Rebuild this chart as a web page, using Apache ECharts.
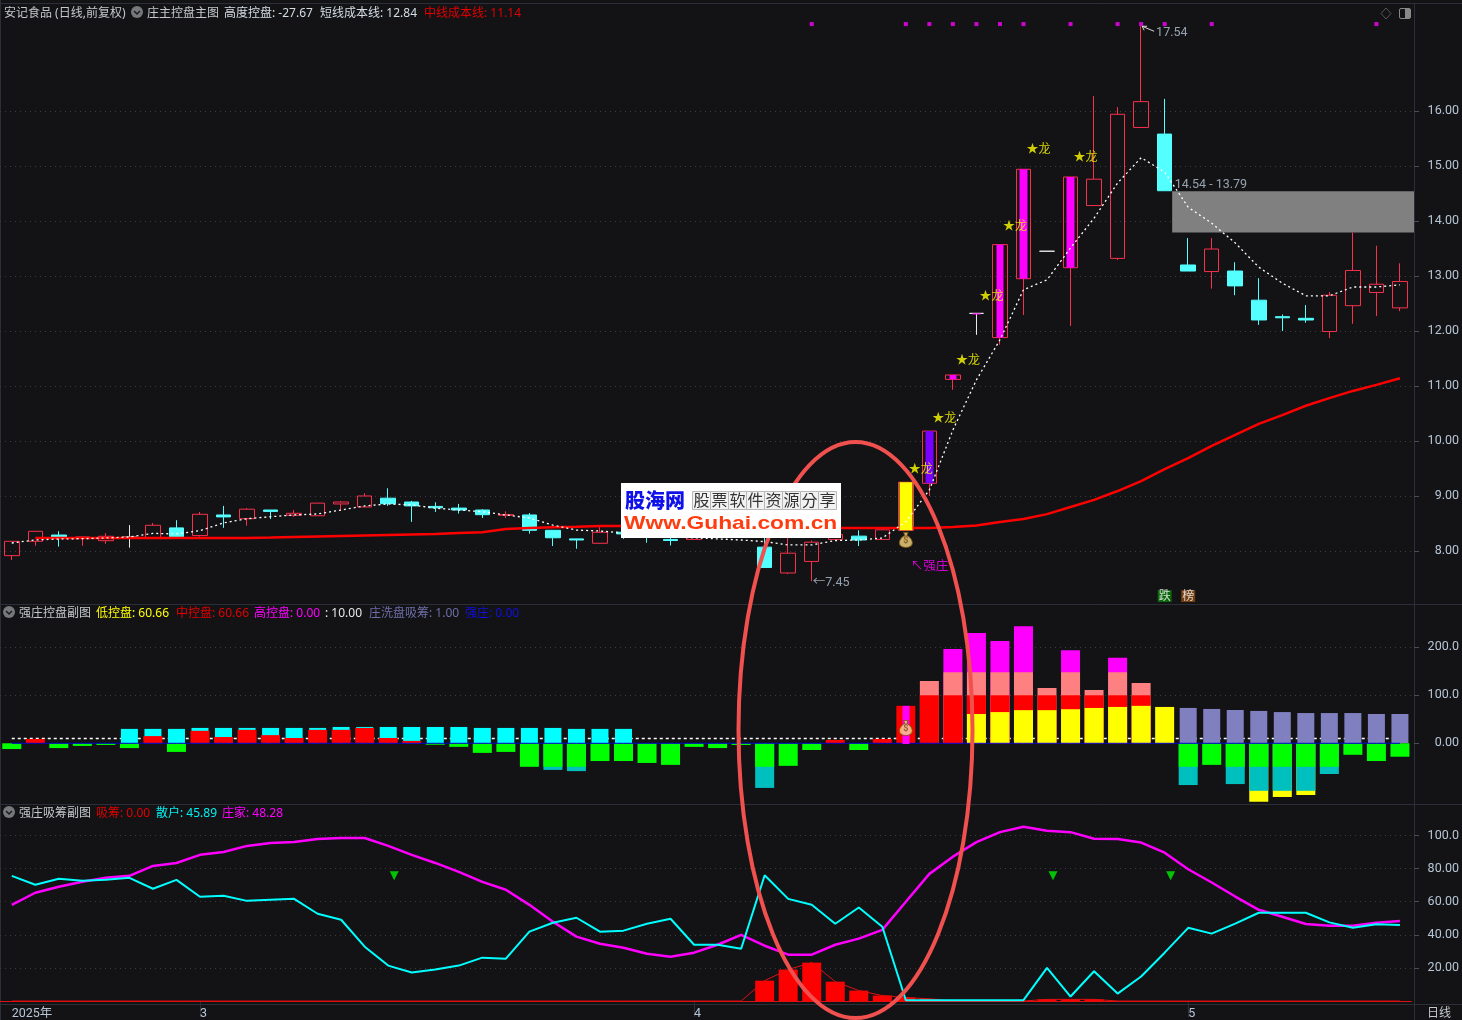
<!DOCTYPE html>
<html>
<head>
<meta charset="utf-8">
<title>安记食品</title>
<script src="https://cdn.jsdelivr.net/npm/echarts@6/dist/echarts.min.js"></script>
<style>
    html, body { margin: 0; padding: 0; background: #131316; }
    #chart { width: 1462px; height: 1020px; }
</style>
</head>
<body>
<div id="chart"></div>
<script>
    // x轴标签
    const xLabels = [
        '2025年','','','','','','','','3','',
        '','','','','','','','','','',
        '','','','','','','','','','4',
        '','','','','','','','','','',
        '','','','','','','','','','',
        '5','','','','','','','','',''
    ];
    const monthTicks = [8, 29, 50];

    // K线
    const candleOpen = [
        7.915,8.176,8.29,8.236,8.187,8.25,8.236,8.42,8.28,8.655,
        8.587,8.745,8.65,8.64,8.855,8.8,8.96,8.89,8.81,8.78,
        8.745,8.65,8.655,8.376,8.22,8.14,8.34,8.35,8.21,8.21,
        8.45,8.6,8.07,7.6,7.81,8.21,8.27,8.21,8.376,9.23,
        11.12,12.32,11.88,12.95,13.45,13.15,14.28,13.32,15.7,15.58,
        13.2,13.08,13.09,12.56,12.26,12.23,11.99,12.46,12.7,12.42
    ];
    const candleClose = [
        8.176,8.358,8.236,8.255,8.267,8.25,8.467,8.26,8.667,8.62,
        8.76,8.72,8.685,8.87,8.89,9.0,8.86,8.82,8.785,8.745,
        8.66,8.66,8.376,8.24,8.2,8.34,8.31,8.3,8.19,8.4,
        8.5,8.4,7.7,7.96,8.16,8.3,8.2,8.385,9.25,10.18,
        11.2,12.32,13.57,14.94,13.45,14.8,14.76,15.94,16.17,14.55,
        13.09,13.49,12.82,12.2,12.24,12.2,12.65,13.1,12.85,12.9
    ];
    const candleLow = [
        7.836,8.096,8.08,8.096,8.13,8.06,8.236,8.236,8.26,8.42,
        8.46,8.58,8.62,8.64,8.73,8.8,8.82,8.53,8.71,8.68,
        8.6,8.6,8.315,8.09,8.04,8.14,8.22,8.15,8.1,8.21,
        8.45,8.3,7.7,7.58,7.45,8.21,8.09,8.21,8.376,9.0,
        10.93,11.93,11.75,12.29,13.45,12.09,14.28,13.29,15.7,14.55,
        13.09,12.77,12.65,12.11,12.0,12.15,11.87,12.13,12.27,12.36
    ];
    const candleHigh = [
        8.176,8.358,8.36,8.26,8.327,8.47,8.51,8.56,8.71,8.82,
        8.78,8.745,8.745,8.87,8.91,9.05,9.14,8.91,8.885,8.855,
        8.76,8.72,8.69,8.376,8.22,8.45,8.4,8.5,8.26,8.45,
        8.55,8.7,8.26,8.24,8.19,8.35,8.376,8.385,9.25,10.18,
        11.2,12.32,13.57,14.94,13.45,14.8,16.27,16.07,17.54,16.22,
        13.69,13.69,13.25,12.96,12.3,12.47,12.71,13.79,13.55,13.23
    ];

    // 主图内的色块 [序号, 下沿, 上沿]
    const yellowBlock = [[38, 8.376, 9.25]];
    const purpleBlock = [[39, 9.23, 10.18]];
    const magentaBlock = [[40, 11.12, 11.2], [41, 12.3, 12.32], [42, 11.88, 13.57], [43, 12.95, 14.94], [45, 13.15, 14.8]];

    // 短线成本线 / 中线成本线
    const shortCost = [
        8.145,8.2,8.218,8.224,8.236,8.255,8.32,8.31,8.37,8.51,
        8.587,8.623,8.655,8.673,8.745,8.82,8.855,8.836,8.78,8.745,
        8.714,8.655,8.6,8.47,8.38,8.363,8.33,8.29,8.255,8.24,
        8.22,8.2,8.17,8.11,8.11,8.19,8.2,8.236,8.53,9.11,
        10.2,11.11,11.84,12.75,12.93,13.51,14.05,14.69,15.15,14.89,
        14.25,13.96,13.6,13.16,12.87,12.64,12.64,12.8,12.8,12.84
    ];
    const midCost = [
        null,8.236,8.236,8.236,8.236,8.236,8.236,8.236,8.236,8.236,
        8.236,8.245,8.255,8.264,8.273,8.282,8.291,8.3,8.309,8.327,
        8.34,8.4,8.418,8.43,8.44,8.455,8.455,8.455,8.45,8.45,
        8.44,8.44,8.43,8.43,8.42,8.42,8.418,8.418,8.418,8.42,
        8.436,8.463,8.527,8.58,8.67,8.8,8.93,9.09,9.27,9.49,
        9.69,9.91,10.11,10.31,10.47,10.64,10.78,10.91,11.02,11.14
    ];

    const zoneStart = 49;
    const zoneHigh = 14.54;
    const zoneLow = 13.79;
    const topMarkIdx = [34, 38, 39, 40, 41, 42, 43, 45, 47, 48, 49, 51, 58];
    const dragonIdx = [38, 39, 40, 41, 42, 43, 45];
    const dragonPrice = [9.51, 10.44, 11.49, 12.65, 13.93, 15.33, 15.18];

    // 强庄控盘副图
    const barCyan = [
        null,null,null,null,null,30,30,30,32,32,
        32,32,32,32,34,34,34,34,34,34,
        32,32,32,32,30,30,30,null,null,null,
        null,null,null,null,null,null,null,null,null,null,
        null,null,null,null,null,null,null,null,null,null,
        null,null,null,null,null,null,null,null,null,null
    ];
    const barRed = [
        null,9,null,null,null,null,15,null,26,13,
        28,17,11,28,28,32,11,5,null,null,
        null,null,null,null,null,null,null,null,null,null,
        null,null,null,null,null,7,null,9,78,100,
        100,100,100,100,100,100,100,100,100,null,
        null,null,null,null,null,null,null,null,null,null
    ];
    const barSalmon = [
        null,null,null,null,null,null,null,null,null,null,
        null,null,null,null,null,null,null,null,null,null,
        null,null,null,null,null,null,null,null,null,null,
        null,null,null,null,null,null,null,null,null,130,
        148,148,148,148,115,148,111,148,125.7,null,
        null,null,null,null,null,null,null,null,null,null
    ];
    const barMagenta = [
        null,null,null,null,null,null,null,null,null,null,
        null,null,null,null,null,null,null,null,null,null,
        null,null,null,null,null,null,null,null,null,null,
        null,null,null,null,null,null,null,null,null,null,
        196.5,230,213,244,null,194,null,178,null,null,
        null,null,null,null,null,null,null,null,null,null
    ];
    const barYellow = [
        null,null,null,null,null,null,null,null,null,null,
        null,null,null,null,null,null,null,null,null,null,
        null,null,null,null,null,null,null,null,null,null,
        null,null,null,null,null,null,null,null,null,null,
        null,61,65,69,69,71,73.6,75.7,78,75.7,
        null,null,null,null,null,null,null,null,null,null
    ];
    const barPurple = [
        null,null,null,null,null,null,null,null,null,null,
        null,null,null,null,null,null,null,null,null,null,
        null,null,null,null,null,null,null,null,null,null,
        null,null,null,null,null,null,null,null,null,null,
        null,null,null,null,null,null,null,null,null,null,
        73.6,71.5,69.4,67.4,65,63,63,63,61,61
    ];
    const barGreen = [
        -12,null,-10,-5.5,-3.5,-10,null,-18,null,null,
        null,null,null,null,null,null,null,null,-3,-7.5,
        -20,-18,-49,-49,-49,-37,-37,-41,-45,-7.5,
        -10,-3.5,-49,-47,-14,null,-14,null,null,null,
        null,null,null,null,null,null,null,null,null,null,
        -49,-45,-49,-49,-49,-49,-49,-24,-37,-28
    ];
    const barTeal = [
        null,null,null,null,null,null,null,null,null,null,
        null,null,null,null,null,null,null,null,null,null,
        null,null,null,-55.5,-58,null,null,null,null,null,
        null,null,-93,null,null,null,null,null,null,null,
        null,null,null,null,null,null,null,null,null,null,
        -87,null,-85,-99,-99,-99,-64,null,null,null
    ];
    const barYellowDown = [
        null,null,null,null,null,null,null,null,null,null,
        null,null,null,null,null,null,null,null,null,null,
        null,null,null,null,null,null,null,null,null,null,
        null,null,null,null,null,null,null,null,null,null,
        null,null,null,null,null,null,null,null,null,null,
        null,null,null,-122,-112,-107.6,null,null,null,null
    ];
    const washLine = new Array(60).fill(10);
    const strongLine = new Array(60).fill(0);
    const narrowMagenta = [[38, -1.5, 78]];

    // 强庄吸筹副图
    const retail = [
        75.6,70.2,73.8,72.6,73.2,74.4,67.8,73.2,63,63.6,
        60.5,61.1,61.7,52.7,49.1,32.8,21.4,17.2,19,21.4,
        26.2,25.6,41.9,47.3,50.3,41.9,42.5,46.7,49.7,34,
        34,31.6,76,61.7,58.1,46.7,56.5,44.9,0.5,0.5,
        0.5,0.5,0.5,0.5,20,2.7,18,4.5,14.8,29.2,
        44.2,40.7,46.7,53.3,53.3,53.3,47.5,44.3,46.3,45.89
    ];
    const banker = [
        58.1,65.4,69,72,74.4,75.6,81.6,83.4,88.3,90,
        93.7,95.5,96,97.9,98.5,98.5,93.7,88.3,83.4,78,
        72,67.2,58.1,47.9,38.9,34.6,32.2,28.6,26.8,29.2,
        34,40,33.4,28,28,34,37.7,43,60,76.8,
        87.2,96,102,105.3,102.9,102,98,97.9,95.7,89.6,
        79.6,71.6,63.1,55.1,50.9,46.5,45.5,45.5,47.3,48.28
    ];
    const absorb = [
        0,0,0,0,0,0,0,0,0,0,
        0,0,0,0,0,0,0,0,0,0,
        0,0,0,0,0,0,0,0,0,0,
        0,0,12.3,19,23.2,11.7,6.3,3.3,2.1,1.3,
        0,0,0,0,1,1,1,0,0,0,
        0,0,0,0,0,0,0,0,0,0
    ];
    const triangleIdx = [16, 44, 49];
    const triangleValue = 75.6;

    const priceTicks = [8, 9, 10, 11, 12, 13, 14, 15, 16];
    const controlTicks = [0, 100, 200];
    const absorbTicks = [20, 40, 60, 80, 100];
    const slogan = ['股', '票', '软', '件', '资', '源', '分', '享'];

    const BG = '#131316';
    const GRID_LINE = '#3c3c40';
    const AXIS_LINE = '#2c2f3a';
    const LABEL = '#b7c6d6';
    const UI_FONT = '"Noto Sans", "Noto Sans CJK SC"';
    const NUM_FONT = 'Roboto, "Noto Sans CJK SC"';

    function gridMarks(values) {
        return {
            silent: true,
            z: 0,
            symbol: 'none',
            label: {show: false},
            lineStyle: {color: GRID_LINE, type: [1, 4], width: 1},
            data: values.map((v) => ({yAxis: v}))
        };
    }

    function yAxisOf(gridIndex, min, max, ticks, formatter) {
        return {
            type: 'value',
            gridIndex: gridIndex,
            position: 'right',
            offset: 2.3,
            min: min,
            max: max,
            splitLine: {show: false},
            axisLine: {show: true, lineStyle: {color: AXIS_LINE}},
            axisTick: {show: true, length: 5, customValues: ticks, lineStyle: {color: '#4a4d58'}},
            axisLabel: {
                customValues: ticks,
                align: 'right',
                margin: 45,
                padding: [2, 0, 0, 0],
                color: LABEL,
                fontFamily: NUM_FONT,
                fontSize: 12.5,
                formatter: formatter
            }
        };
    }

    function xAxisOf(gridIndex, showLabels) {
        return {
            type: 'category',
            gridIndex: gridIndex,
            data: xLabels,
            boundaryGap: true,
            axisLine: {show: false},
            axisTick: showLabels ? {
                show: true,
                alignWithLabel: true,
                length: 16,
                interval: (i) => monthTicks.includes(i),
                lineStyle: {color: AXIS_LINE}
            } : {show: false},
            axisLabel: showLabels ? {
                show: true,
                align: 'left',
                margin: 4,
                interval: (i) => xLabels[i] !== '',
                color: LABEL,
                fontFamily: NUM_FONT,
                fontSize: 12.5
            } : {show: false}
        };
    }

    // 主图上的文字标注
    function note(i, value, text, labelStyle) {
        return {
            value: [i, value],
            label: Object.assign({
                show: true,
                position: 'right',
                distance: 3,
                formatter: text,
                color: LABEL,
                fontFamily: NUM_FONT,
                fontSize: 12.5
            }, labelStyle)
        };
    }

    function noteSeries(data) {
        return {
            type: 'scatter',
            xAxisIndex: 0,
            yAxisIndex: 0,
            symbolSize: 0,
            silent: true,
            z: 8,
            data: data
        };
    }

    function blockSeries(data, color, width, xIdx, yIdx) {
        return {
            type: 'candlestick',
            xAxisIndex: xIdx,
            yAxisIndex: yIdx,
            barWidth: width,
            silent: true,
            z: 6,
            encode: {x: 0, y: [1, 2, 3, 4]},
            itemStyle: {color: color, color0: color, borderColor: color, borderColor0: color, borderColorDoji: color, borderWidth: 0},
            data: data.map((d) => [d[0], d[1], d[2], d[1], d[2]])
        };
    }

    function barSeries(data, color, width, xIdx, z) {
        return {
            type: 'bar',
            xAxisIndex: xIdx,
            yAxisIndex: 1,
            barWidth: width,
            barGap: '-100%',
            silent: true,
            z: z,
            itemStyle: {color: color},
            data: data
        };
    }

    function lineSeries(data, color, width, xIdx, yIdx, z, type) {
        return {
            type: 'line',
            xAxisIndex: xIdx,
            yAxisIndex: yIdx,
            data: data,
            showSymbol: false,
            silent: true,
            connectNulls: false,
            z: z,
            lineStyle: {color: color, width: width, type: type || 'solid'}
        };
    }

    const BAG_PATH = 'path://M8 0L16 0L14 5C21 9 24 14 24 18C24 24 18 26 12 26C6 26 0 24 0 18C0 14 3 9 10 5Z';
    function bagSeries(xIdx, yIdx, value) {
        return {
            type: 'scatter',
            xAxisIndex: xIdx,
            yAxisIndex: yIdx,
            symbol: BAG_PATH,
            symbolSize: [13, 15],
            silent: true,
            z: 9,
            itemStyle: {color: '#f6da82', borderColor: '#7a5210', borderWidth: 1},
            label: {show: true, position: 'inside', formatter: '$', color: '#7a4a10', fontSize: 9, fontWeight: 'bold', fontFamily: NUM_FONT, offset: [0, 1]},
            data: [[38, value]]
        };
    }

    // 小箭头，从数值点斜向文字
    function arrowRender(params, api) {
        const p = api.coord([api.value(0), api.value(1)]);
        const x = p[0] + 1, y = p[1];
        return {
            type: 'group',
            children: [
                {type: 'line', shape: {x1: x, y1: y, x2: x + 12, y2: y + 5}, style: {stroke: '#d8d8d8', lineWidth: 1}},
                {type: 'polyline', shape: {points: [[x + 2, y + 4], [x, y], [x + 5, y]]}, style: {stroke: '#d8d8d8', fill: 'none', lineWidth: 1}}
            ]
        };
    }

    function zoneRender(params, api) {
        const top = api.coord([api.value(0), api.value(1)]);
        const bottom = api.coord([api.value(0), api.value(2)]);
        const x = top[0] + 7.5;
        const right = params.coordSys.x + params.coordSys.width + 2.3;
        return {
            type: 'rect',
            shape: {x: x, y: top[1], width: right - x, height: bottom[1] - top[1]},
            style: {fill: '#808080'}
        };
    }

    // 标题栏文字
    function headerText(y, runs) {
        return runs.map((r) => ({
            type: 'text',
            x: r[0],
            y: y,
            silent: true,
            style: {text: r[1], fill: r[2], font: '12px ' + UI_FONT, textVerticalAlign: 'middle'}
        }));
    }

    function foldIcon(cx, cy) {
        return [
            {type: 'circle', shape: {cx: cx, cy: cy, r: 6}, silent: true, style: {fill: '#77787c'}},
            {type: 'polyline', shape: {points: [[cx - 3, cy - 1], [cx, cy + 2], [cx + 3, cy - 1]]}, silent: true, style: {stroke: '#1c1c1f', fill: 'none', lineWidth: 1.5}}
        ];
    }

    function hLine(y, x1, x2) {
        return {type: 'line', shape: {x1: x1, y1: y, x2: x2, y2: y}, silent: true, z: 20, style: {stroke: AXIS_LINE, lineWidth: 1}};
    }

    // 水印里的方格字
    const sloganCells = [];
    slogan.forEach((ch, k) => {
        sloganCells.push({type: 'rect', shape: {x: 692.5 + k * 18, y: 491.5, width: 18, height: 18}, silent: true, z: 31, style: {fill: '#f2f2f2', stroke: '#b8b8b8', lineWidth: 1}});
        sloganCells.push({type: 'text', x: 701.5 + k * 18, y: 500, silent: true, z: 32, style: {text: ch, fill: '#333333', font: '16px "Noto Sans CJK TC"', textAlign: 'center', textVerticalAlign: 'middle'}});
    });

    const graphics = [].concat(
        [hLine(3.5, 0, 1462), hLine(604.5, 0, 1462), hLine(804.5, 0, 1462), hLine(1004.5, 0, 1462)],
        [{type: 'line', shape: {x1: 0.5, y1: 0, x2: 0.5, y2: 1020}, silent: true, style: {stroke: AXIS_LINE, lineWidth: 1}}],
        [{type: 'line', shape: {x1: 1414.5, y1: 1004, x2: 1414.5, y2: 1020}, silent: true, style: {stroke: AXIS_LINE, lineWidth: 1}}],
        headerText(14, [
            [4, '安记食品 (日线,前复权)', '#c4c8cc'],
            [147, '庄主控盘主图', '#c4c8cc'],
            [224, '高度控盘: -27.67', '#d4dde6'],
            [320, '短线成本线: 12.84', '#d4dde6'],
            [424, '中线成本线: 11.14', '#e00000']
        ]),
        foldIcon(137, 12),
        headerText(614, [
            [19, '强庄控盘副图', '#c4c8cc'],
            [96, '低控盘: 60.66', '#ffff00'],
            [176, '中控盘: 60.66', '#e00000'],
            [254, '高控盘: 0.00', '#ff00ff'],
            [325, ': 10.00', '#e8e8e8'],
            [369, '庄洗盘吸筹: 1.00', '#6e6ea8'],
            [465, '强庄: 0.00', '#1010e0']
        ]),
        foldIcon(9, 612),
        headerText(814, [
            [19, '强庄吸筹副图', '#c4c8cc'],
            [96, '吸筹: 0.00', '#e00000'],
            [156, '散户: 45.89', '#00f0f0'],
            [222, '庄家: 48.28', '#ff00ff']
        ]),
        foldIcon(9, 812),
        [{type: 'text', x: 1427, y: 1014, silent: true, style: {text: '日线', fill: '#c4c8cc', font: '12px ' + UI_FONT, textVerticalAlign: 'middle'}}],
        // 右上角图标
        [{type: 'polygon', shape: {points: [[1386, 8], [1391, 13.5], [1386, 19], [1381, 13.5]]}, silent: true, style: {stroke: '#555', fill: 'none', lineWidth: 1}}],
        [{type: 'rect', shape: {x: 1399.5, y: 8.5, width: 11, height: 10, r: 1.5}, silent: true, style: {stroke: '#888', fill: 'none', lineWidth: 1}}],
        [{type: 'rect', shape: {x: 1405, y: 9, width: 5, height: 9}, silent: true, style: {fill: '#888'}}],
        // 红色手绘圈，压在水印下面
        [{type: 'ellipse', shape: {cx: 855.5, cy: 730, rx: 117, ry: 288}, silent: true, z: 25, style: {stroke: '#f0504e', fill: 'none', lineWidth: 4}}],
        // 水印
        [{type: 'rect', shape: {x: 621, y: 483, width: 220, height: 55}, silent: true, z: 30, style: {fill: '#ffffff'}}],
        [{type: 'text', x: 625, y: 500, silent: true, z: 31, style: {text: '股海网', fill: '#1010e8', font: '900 20px "Noto Sans CJK SC"', textVerticalAlign: 'middle'}}],
        sloganCells,
        [{type: 'text', x: 624, y: 523.5, scaleX: 1.2, silent: true, z: 31, style: {text: 'Www.Guhai.com.cn', fill: '#ff3c10', font: 'bold 19px "Liberation Sans"', textVerticalAlign: 'middle'}}]
    );

    const candleData = candleOpen.map((o, i) => [o, candleClose[i], candleLow[i], candleHigh[i]]);

    const priceFmt = (v) => v.toFixed(2);
    const panelFmt = (v) => (v >= 100 ? v.toFixed(1) : v.toFixed(2));

    const option = {
        animation: false,
        backgroundColor: BG,
        grid: [
            {left: -1.275, width: 1413, top: 4, height: 600},
            {left: -1.275, width: 1413, top: 605, height: 199},
            {left: -1.275, width: 1413, top: 805, height: 199}
        ],
        xAxis: [xAxisOf(0, false), xAxisOf(1, false), xAxisOf(2, true), xAxisOf(1, false)],
        yAxis: [
            yAxisOf(0, 7.036, 17.945, priceTicks, priceFmt),
            yAxisOf(1, -126.5, 288.1, controlTicks, panelFmt),
            yAxisOf(2, -1.5, 118.4, absorbTicks, panelFmt)
        ],
        graphic: graphics,
        series: [
            // 主图
            {
                type: 'custom',
                xAxisIndex: 0,
                yAxisIndex: 0,
                renderItem: zoneRender,
                silent: true,
                z: 1,
                encode: {x: 0, y: [1, 2]},
                data: [[zoneStart, zoneHigh, zoneLow]],
                markLine: gridMarks(priceTicks)
            },
            {
                type: 'candlestick',
                xAxisIndex: 0,
                yAxisIndex: 0,
                barWidth: 15,
                silent: true,
                z: 3,
                itemStyle: {
                    color: 'transparent',
                    color0: '#54ffff',
                    borderColor: '#f8304c',
                    borderColor0: '#54ffff',
                    borderColorDoji: '#e8e8e8',
                    borderWidth: 1
                },
                data: candleData
            },
            lineSeries(midCost, '#ff0000', 2.5, 0, 0, 4),
            blockSeries(yellowBlock, '#ffff00', 13, 0, 0),
            blockSeries(purpleBlock, '#7a00ff', 8, 0, 0),
            blockSeries(magentaBlock, '#ff00ff', 8, 0, 0),
            lineSeries(shortCost, '#ffffff', 1.3, 0, 0, 7, [2, 3]),
            {
                type: 'scatter',
                xAxisIndex: 0,
                yAxisIndex: 0,
                symbol: 'rect',
                symbolSize: 4,
                silent: true,
                z: 7,
                itemStyle: {color: '#ff00ff'},
                data: topMarkIdx.map((i) => [i, 17.58])
            },
            noteSeries(dragonIdx.map((i, k) => note(i, dragonPrice[k], '★龙', {color: '#ffff00', fontFamily: UI_FONT, fontSize: 12, offset: [0, 1.5]}))),
            noteSeries([
                note(48, 17.42, '17.54', {distance: 15}),
                note(34, 7.42, '←7.45', {distance: 1}),
                note(49, 14.66, '14.54 - 13.79', {distance: 10}),
                note(38, 7.72, '↖强庄', {color: '#ff00ff', distance: 5, fontFamily: UI_FONT}),
                note(49, 7.18, '跌', {position: 'inside', color: '#ffffff', backgroundColor: '#0b7a0b', padding: [0, 1], fontFamily: UI_FONT, fontSize: 12}),
                note(50, 7.18, '榜', {position: 'inside', color: '#ffffff', backgroundColor: '#8a4a10', padding: [0, 1], fontFamily: UI_FONT, fontSize: 12})
            ]),
            {
                type: 'custom',
                xAxisIndex: 0,
                yAxisIndex: 0,
                renderItem: arrowRender,
                silent: true,
                z: 8,
                encode: {x: 0, y: 1},
                data: [[48, 17.54]]
            },
            bagSeries(0, 0, 8.2),

            // 强庄控盘副图
            Object.assign(lineSeries(washLine, '#ffffff', 1.5, 1, 1, 1, [3, 3]), {markLine: gridMarks([100, 200])}),
            barSeries(barCyan, '#00ffff', 17, 3, 2),
            barSeries(barPurple, '#8080c0', 17, 3, 2),
            barSeries(barMagenta, '#ff00ff', 19, 1, 3),
            barSeries(barSalmon, '#ff8080', 19, 1, 3),
            barSeries(barRed, '#ff0000', 19, 1, 3),
            barSeries(barYellow, '#ffff00', 19, 1, 3),
            barSeries(barYellowDown, '#ffff00', 19, 1, 3),
            barSeries(barTeal, '#00bfbf', 19, 1, 3),
            barSeries(barGreen, '#00ff00', 19, 1, 3),
            lineSeries(strongLine, '#0000d0', 1, 1, 1, 4),
            blockSeries(narrowMagenta, '#ff00ff', 8, 1, 1),
            bagSeries(1, 1, 32),

            // 强庄吸筹副图
            {
                type: 'bar',
                xAxisIndex: 2,
                yAxisIndex: 2,
                barWidth: 19,
                silent: true,
                z: 2,
                itemStyle: {color: '#ff0000'},
                data: absorb,
                markLine: gridMarks(absorbTicks)
            },
            Object.assign(lineSeries(absorb, '#e01010', 1, 2, 2, 3), {
                markLine: {
                    silent: true,
                    z: 1,
                    symbol: 'none',
                    label: {show: false},
                    lineStyle: {color: '#e01010', type: 'solid', width: 1},
                    data: [{yAxis: 0}]
                }
            }),
            lineSeries(banker, '#ff00ff', 2.5, 2, 2, 4),
            lineSeries(retail, '#00ffff', 2, 2, 2, 5),
            {
                type: 'scatter',
                xAxisIndex: 2,
                yAxisIndex: 2,
                symbol: 'triangle',
                symbolRotate: 180,
                symbolSize: 9,
                symbolOffset: [6, 0],
                silent: true,
                z: 6,
                itemStyle: {color: '#00f000'},
                data: triangleIdx.map((i) => [i, triangleValue])
            }
        ]
    };

    const myChart = echarts.init(document.getElementById('chart'));
    myChart.setOption(option);
</script>
</body>
</html>
